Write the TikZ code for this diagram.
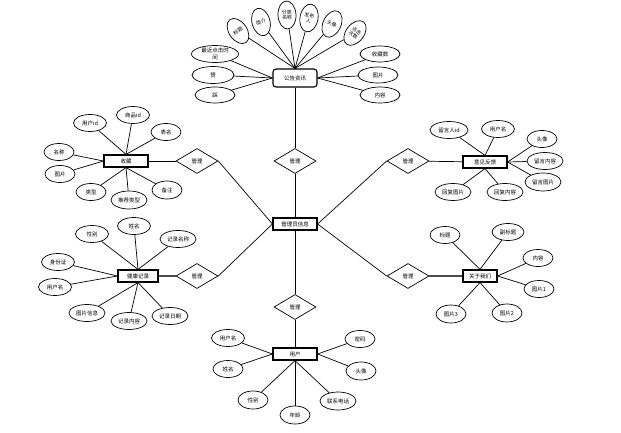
\documentclass[tikz,border=0pt]{standalone}
\usepackage{fontspec}
\setmainfont{Noto Sans CJK SC}
\usetikzlibrary{shapes.geometric}
\begin{document}
\begin{tikzpicture}[x=1pt,y=-1pt,
  lbl/.style={font=\fontsize{5.5}{6.2}\selectfont},
  attr/.style={ellipse,draw,line width=0.7pt,fill=white,inner sep=0pt,minimum width=33pt,minimum height=17pt,lbl,align=center},
  tall/.style={attr,minimum width=18pt,minimum height=28pt,font=\fontsize{5}{5.6}\selectfont},
  ent/.style={rectangle,draw,line width=1.2pt,fill=white,inner sep=0pt,minimum width=44pt,minimum height=12pt,lbl},
  topent/.style={rectangle,rounded corners=3pt,draw,line width=1.1pt,fill=white,inner sep=0pt,minimum width=44pt,minimum height=18pt,lbl},
  rel/.style={diamond,draw,line width=0.7pt,fill=white,inner sep=0pt,minimum width=42pt,minimum height=25pt,lbl},
  conn/.style={line width=0.7pt},
  thickconn/.style={line width=1.6pt,draw=black!70}
]
\useasboundingbox (0,0) rectangle (621,433);

% ---------- top entity ----------
\node[topent] (gg) at (295,78) {公告资讯};
\node[tall,rotate=35] (g1) at (238,31) {标题};
\node[tall,rotate=15] (g2) at (261,22) {简介};
\node[tall,rotate=3] (g3) at (287,15) {分类\\名称};
\node[tall,rotate=-10] (g4) at (309,18) {发布\\人};
\node[tall,rotate=-25] (g5) at (332,24) {头像};
\node[tall,rotate=-38] (g6) at (355,33) {点击\\次数};
\node[attr,minimum width=47pt] (g7) at (215,54) {最近点击时\\间};
\node[attr,minimum width=42pt] (g8) at (213,75) {赞};
\node[attr,minimum width=40pt,minimum height=16pt] (g9) at (215,95) {踩};
\node[attr,minimum width=40pt,minimum height=16pt] (g10) at (380,54) {收藏数};
\node[attr,minimum width=40pt,minimum height=16pt] (g11) at (378,75) {图片};
\node[attr,minimum width=40pt,minimum height=16pt] (g12) at (380,95) {内容};
\foreach \n in {g1,g2,g3,g4,g5,g6} \draw[conn] (\n) -- (gg.north);
\foreach \n in {g7,g8,g9} \draw[conn] (\n) -- (gg.west);
\foreach \n in {g10,g11,g12} \draw[conn] (\n) -- (gg.east);

% ---------- centre ----------
\node[ent] (adm) at (295,224) {管理员信息};
\node[rel] (r1) at (295,161) {管理};
\node[rel] (r2) at (197,161) {管理};
\node[rel] (r3) at (408,161) {管理};
\node[rel] (r4) at (197,276) {管理};
\node[rel] (r5) at (408,276) {管理};
\node[rel] (r6) at (295,307) {管理};

% ---------- entities ----------
\node[ent] (sc) at (126,161) {收藏};
\node[ent,minimum width=40pt] (jk) at (138,276) {健康记录};
\node[ent] (yj) at (485,162) {意见反馈};
\node[ent,minimum width=34pt] (gy) at (480,276) {关于我们};
\node[ent] (yh) at (295,354) {用户};

\draw[conn] (gg) -- (r1);
\draw[conn] (r1) -- (adm);
\draw[conn] (adm) -- (r6);
\draw[conn] (r6) -- (yh);
\draw[conn] (r2.east) -- (adm.west);
\draw[conn] (r4.east) -- (adm.west);
\draw[conn] (r3.west) -- (adm.east);
\draw[conn] (r5.west) -- (adm.east);
\draw[conn] (sc) -- (r2);
\draw[thickconn] (jk) -- (r4);
\draw[conn] (yj) -- (r3);
\draw[thickconn] (gy) -- (r5);

% ---------- 收藏 ----------
\node[attr] (s1) at (90,123) {用户id};
\node[attr] (s2) at (133,115) {商品id};
\node[attr,minimum width=30pt] (s3) at (166,132) {表名};
\node[attr,minimum width=30pt] (s4) at (59,152) {名称};
\node[attr,minimum width=30pt] (s5) at (60,174) {图片};
\node[attr,minimum width=30pt] (s6) at (91,192) {类型};
\node[attr,minimum width=36pt,minimum height=18pt] (s7) at (129,200) {推荐类型};
\node[attr,minimum width=30pt,minimum height=18pt] (s8) at (167,190) {备注};
\foreach \n in {s1,s2,s3} \draw[conn] (\n) -- (sc.north);
\foreach \n in {s4,s5} \draw[conn] (\n) -- (sc.west);
\foreach \n in {s6,s7,s8} \draw[conn] (\n) -- (sc.south);

% ---------- 健康记录 ----------
\node[attr] (h1) at (92,234) {性别};
\node[attr] (h2) at (134,226) {姓名};
\node[attr,minimum width=36pt] (h3) at (178,239) {记录名称};
\node[attr] (h4) at (58,262) {身份证};
\node[attr] (h5) at (55,287) {用户名};
\node[attr,minimum width=36pt] (h6) at (87,313) {图片信息};
\node[attr,minimum width=36pt] (h7) at (129,321) {记录内容};
\node[attr,minimum width=36pt] (h8) at (170,316) {记录日期};
\foreach \n in {h1,h2,h3} \draw[conn] (\n) -- (jk.north);
\foreach \n in {h4,h5} \draw[conn] (\n) -- (jk.west);
\foreach \n in {h6,h7,h8} \draw[conn] (\n) -- (jk.south);

% ---------- 意见反馈 ----------
\node[attr,minimum width=38pt] (y1) at (449,130) {留言人id};
\node[attr] (y2) at (498,129) {用户名};
\node[attr,minimum width=30pt] (y3) at (542,139) {头像};
\node[attr,minimum width=36pt] (y4) at (545,161) {留言内容};
\node[attr,minimum width=36pt,minimum height=18pt] (y5) at (543,182) {留言图片};
\node[attr,minimum width=36pt] (y6) at (453,192) {回复图片};
\node[attr,minimum width=36pt] (y7) at (505,192) {回复内容};
\foreach \n in {y1,y2} \draw[conn] (\n) -- (yj.north);
\foreach \n in {y3,y4,y5} \draw[conn] (\n) -- (yj.east);
\foreach \n in {y6,y7} \draw[conn] (\n) -- (yj.south);

% ---------- 关于我们 ----------
\node[attr,minimum width=30pt] (a1) at (445,235) {标题};
\node[attr,minimum width=32pt] (a2) at (508,232) {副标题};
\node[attr,minimum width=30pt] (a3) at (538,258) {内容};
\node[attr,minimum width=30pt] (a4) at (539,289) {图片1};
\node[attr,minimum width=30pt,minimum height=18pt] (a5) at (507,313) {图片2};
\node[attr,minimum width=30pt,minimum height=18pt] (a6) at (451,314) {图片3};
\foreach \n in {a1,a2} \draw[conn] (\n) -- (gy.north);
\foreach \n in {a3,a4} \draw[conn] (\n) -- (gy.east);
\foreach \n in {a5,a6} \draw[conn] (\n) -- (gy.south);

% ---------- 用户 ----------
\node[attr] (u1) at (228,338) {用户名};
\node[attr,minimum width=30pt] (u2) at (228,369) {姓名};
\node[attr,minimum width=30pt,minimum height=18pt] (u3) at (253,400) {性别};
\node[attr,minimum width=30pt,minimum height=18pt] (u4) at (295,415) {年龄};
\node[attr,minimum width=36pt,minimum height=18pt] (u5) at (338,401) {联系电话};
\node[attr,minimum width=30pt,minimum height=18pt] (u6) at (361,371) {头像};
\node[attr,minimum width=30pt] (u7) at (360,339) {密码};
\foreach \n in {u1,u2} \draw[conn] (\n) -- (yh.west);
\foreach \n in {u6,u7} \draw[conn] (\n) -- (yh.east);
\foreach \n in {u3,u4,u5} \draw[conn] (\n) -- (yh.south);
\end{tikzpicture}
\end{document}
